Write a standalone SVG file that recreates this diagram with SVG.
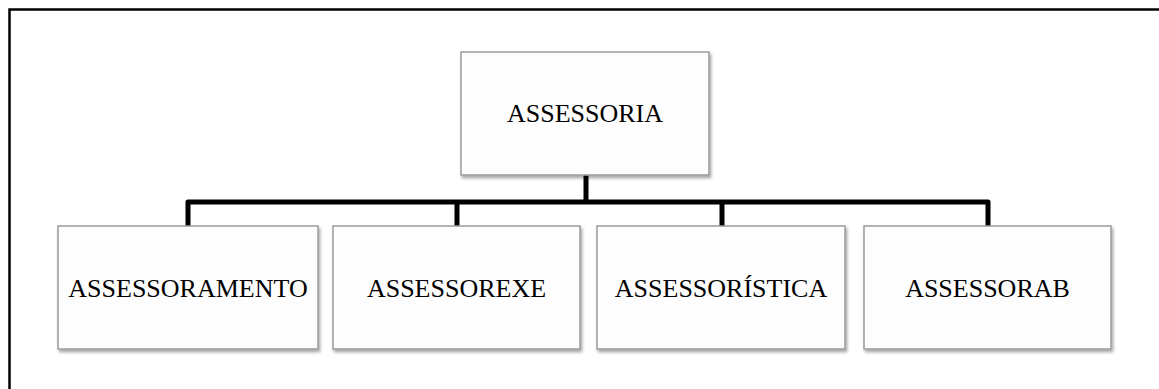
<svg xmlns="http://www.w3.org/2000/svg" width="1159" height="389" viewBox="0 0 1159 389">
  <style>
    .box { fill: #fdfdfd; stroke: #9a9a9a; stroke-width: 1.5; filter: url(#sh); }
    .lbl { font-family: "Liberation Serif", "Times New Roman", serif; font-size: 26px; fill: #000; text-anchor: middle; }
    .conn { fill: none; stroke: #000; stroke-width: 5; stroke-linejoin: round; }
    .frame { stroke: #000; stroke-width: 2.5; fill: none; }
  </style>
  <defs>
    <filter id="sh" x="-10%" y="-10%" width="130%" height="130%">
      <feDropShadow dx="1.5" dy="2.5" stdDeviation="1.5" flood-color="#000" flood-opacity="0.35"/>
    </filter>
  </defs>
  <rect width="1159" height="389" fill="#fff"/>
  <g id="frame">
    <path class="frame" d="M9.5,389 V9.5 H1159"/>
  </g>
  <g id="connectors">
    <path class="conn" d="M586,175 V202"/>
    <path class="conn" d="M188,226 V202 H988 V226"/>
    <path class="conn" d="M457,202 V226"/>
    <path class="conn" d="M722,202 V226"/>
  </g>
  <g id="node-assessoria">
    <rect class="box" x="461" y="52" width="248" height="123"/>
    <text class="lbl" x="585" y="122">ASSESSORIA</text>
  </g>
  <g id="node-assessoramento">
    <rect class="box" x="58" y="226" width="260" height="123"/>
    <text class="lbl" x="188" y="297">ASSESSORAMENTO</text>
  </g>
  <g id="node-assessorexe">
    <rect class="box" x="333" y="226" width="247" height="123"/>
    <text class="lbl" x="456.5" y="297">ASSESSOREXE</text>
  </g>
  <g id="node-assessoristica">
    <rect class="box" x="597" y="226" width="248" height="123"/>
    <text class="lbl" x="721" y="297">ASSESSORÍSTICA</text>
  </g>
  <g id="node-assessorab">
    <rect class="box" x="864" y="226" width="247" height="123"/>
    <text class="lbl" x="987.5" y="297">ASSESSORAB</text>
  </g>
</svg>
